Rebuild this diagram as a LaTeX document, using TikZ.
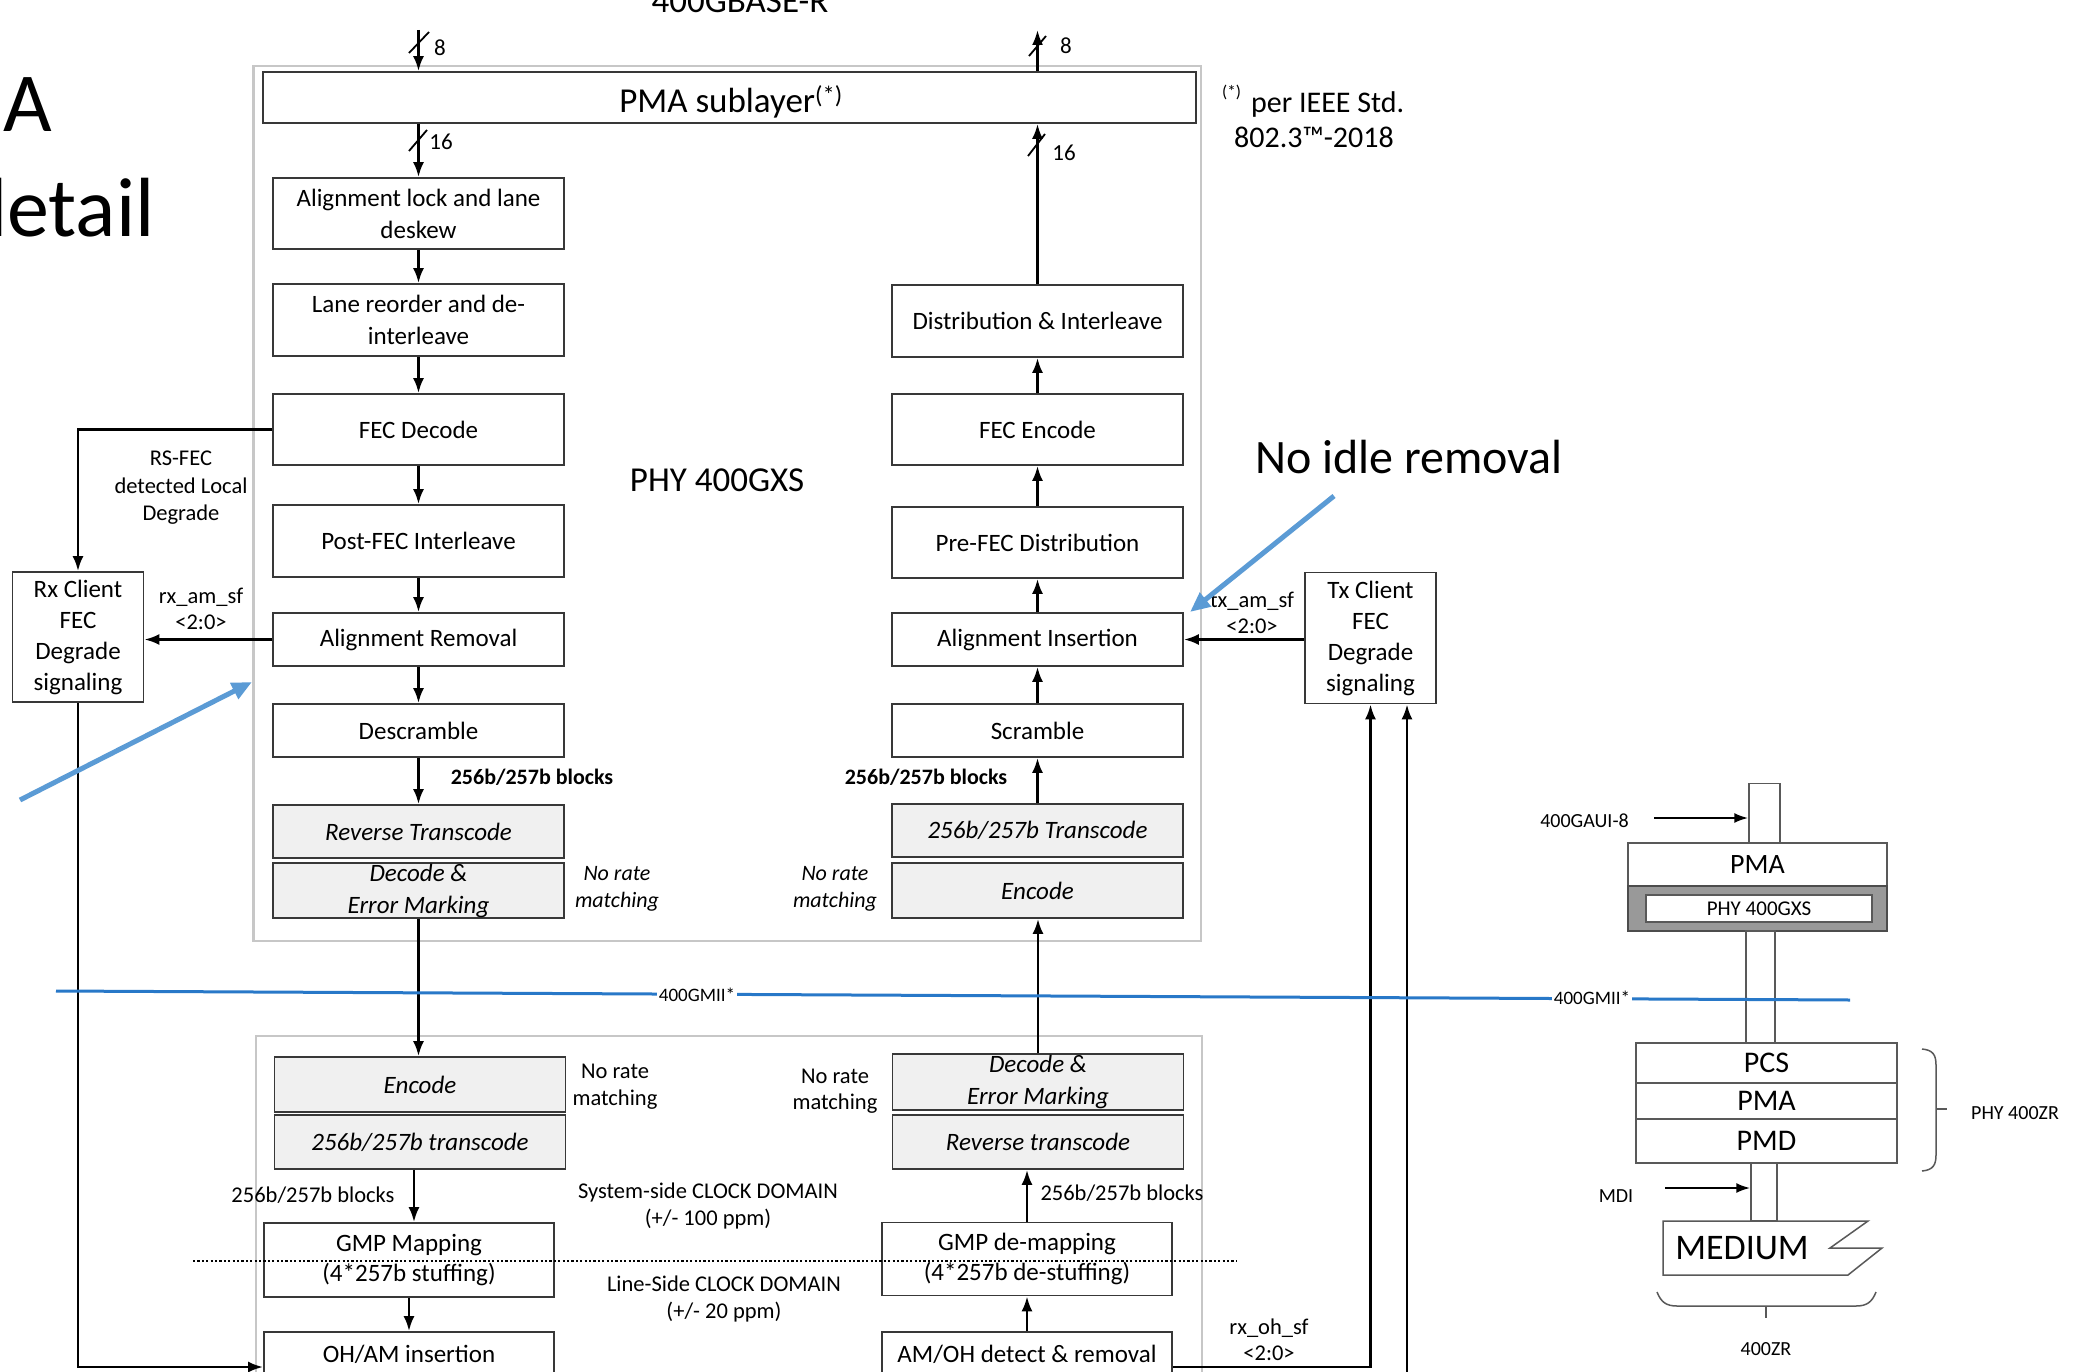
\documentclass[tikz,border=0pt]{standalone}
\usepackage{fontspec}
\setmainfont{Carlito}
\usetikzlibrary{arrows.meta,calc}
\newcommand\fz[2]{\fontsize{#1}{#2}\selectfont}
\definecolor{annblue}{RGB}{91,155,213}
\definecolor{gmblue}{RGB}{40,120,200}
\tikzset{
 grp/.style={draw=black!22, line width=2.4pt, inner sep=0pt},
 blk/.style={draw=black!78, line width=1.8pt, fill=white, minimum width=291pt, align=center, font=\fz{25}{32}, inner sep=0pt},
 gblk/.style={blk, fill=black!6, font=\fz{25}{32}\itshape},
 cblk/.style={draw=black!78, line width=1.8pt, fill=white, align=center, font=\fz{25}{31}, inner sep=0pt},
 conn/.style={draw=black, line width=2.5pt, -{Latex[length=15pt,width=11pt]}},
 conn2/.style={draw=black, line width=2.2pt, -{Latex[length=14pt,width=10pt]}},
 slash/.style={draw=black, line width=1.8pt},
 num/.style={font=\fz{23}{26}, inner sep=0pt},
 lbl/.style={font=\fz{22.5}{26.5}, align=center, inner sep=0pt},
 ilbl/.style={font=\fz{22}{27}\itshape, align=center, inner sep=0pt},
 stk/.style={draw=black!65, line width=1.5pt, fill=white, inner sep=0pt},
 sml/.style={font=\fz{20}{22}, inner sep=0pt},
 brc/.style={draw=black!65, line width=1.5pt},
 annarrow/.style={draw=annblue, line width=5pt, -{Triangle[length=20pt,width=17pt]}},
 gmline/.style={draw=gmblue, line width=3pt},
 gmlbl/.style={font=\fz{19}{21}, fill=white, inner sep=1.5pt},
 dotline/.style={draw=black, line width=1.6pt, dash pattern=on 2.2pt off 2.2pt},
}
\begin{document}
\begin{tikzpicture}[x=1pt,y=-1pt]
\useasboundingbox (0,0) rectangle (2079,1372);
\fill[white] (0,0) rectangle (2079,1372);

% slide title fragments
\node[font=\fz{84}{90}, anchor=base west, inner sep=0pt] (tA) at (3,132) {A};
\node[font=\fz{84}{90}, anchor=base west, inner sep=0pt] (tdet) at (-37,237) {detail};
\node[font=\fz{35}{40}, anchor=base, inner sep=0pt] (tbase) at (740,13) {400GBASE-R};

% upper group
\node[grp, minimum width=947.5pt, minimum height=875pt] (gxs) at (727.25,503.5) {};
\node[blk, minimum width=933pt, minimum height=51pt] (pma) at (729.5,97.5) {};
\node[font=\fz{35}{40}, anchor=base, inner sep=0pt] (pmat) at (731,113) {PMA sublayer\textsuperscript{(*)}};
\node[font=\fz{17}{20}, anchor=base west, inner sep=0pt] (star) at (1222,98) {(*)};
\node[font=\fz{30}{34}, anchor=base west, inner sep=0pt] (ieee1) at (1251,113) {per IEEE Std.};
\node[font=\fz{30}{34}, anchor=base, inner sep=0pt] (ieee2) at (1314,148) {802.3™-2018};
\node[font=\fz{35}{40}, inner sep=0pt] (phyg) at (717,480) {PHY 400GXS};

% left column
\node[blk, minimum height=71pt] (all) at (418.5,213.5) {Alignment lock and lane\\deskew};
\node[blk, minimum height=72pt] (lrd) at (418.5,320) {Lane reorder and de-\\interleave};
\node[blk, minimum height=71pt] (fecd) at (418.5,429.5) {FEC Decode};
\node[blk, minimum height=72pt] (pfi) at (418.5,541) {Post-FEC Interleave};
\node[blk, minimum height=53pt] (ar) at (418.5,639.5) {Alignment Removal};
\node[blk, minimum height=53pt] (desc) at (418.5,730.5) {Descramble};
\node[gblk, minimum height=53pt] (rt) at (418.5,831.5) {Reverse Transcode};
\node[gblk, minimum height=55pt] (dem) at (418.5,890.5) {Decode \&\\Error Marking};

% right column
\node[blk, minimum height=72pt] (di) at (1037.5,321) {Distribution \& Interleave};
\node[blk, minimum height=71pt] (fece) at (1037.5,429.5) {FEC Encode};
\node[blk, minimum height=71pt] (pfd) at (1037.5,542.5) {Pre-FEC Distribution};
\node[blk, minimum height=53pt] (ai) at (1037.5,639.5) {Alignment Insertion};
\node[blk, minimum height=53pt] (scr) at (1037.5,730.5) {Scramble};
\node[gblk, minimum height=53pt] (tc) at (1037.5,830.5) {256b/257b Transcode};
\node[gblk, minimum height=55pt] (enc) at (1037.5,890.5) {Encode};

% top arrows
\coordinate (in8) at (418.5,30);
\draw[conn] (in8) -- (in8 |- pma.north);
\draw[slash] (409,53) -- (429,32);
\node[num] (n8a) at (440,48) {8};
\coordinate (out8) at (1037.5,30);
\draw[conn] (out8 |- pma.north) -- (out8);
\draw[slash] (1029,56) -- (1046,36);
\node[num] (n8b) at (1066,46) {8};
\draw[conn] (pma.south -| all.north) -- (all.north);
\draw[slash] (409,151) -- (427,130);
\node[num] (n16a) at (441,142) {16};
\draw[conn] (di.north) -- (di.north |- pma.south);
\draw[slash] (1028,156) -- (1045,134);
\node[num] (n16b) at (1064,153) {16};

% column connectors
\draw[conn] (all.south) -- (lrd.north);
\draw[conn] (lrd.south) -- (fecd.north);
\draw[conn] (fecd.south) -- (pfi.north);
\draw[conn] (pfi.south) -- (ar.north);
\draw[conn] (ar.south) -- (desc.north);
\draw[conn] (desc.south) -- (rt.north);
\draw[conn] (fece.north) -- (di.south);
\draw[conn] (pfd.north) -- (fece.south);
\draw[conn] (ai.north) -- (pfd.south);
\draw[conn] (scr.north) -- (ai.south);
\draw[conn] (tc.north) -- (scr.south);
\node[font=\bfseries\fz{22}{26}, inner sep=0pt] (bl1) at (532,777) {256b/257b blocks};
\node[font=\bfseries\fz{22}{26}, inner sep=0pt] (bl2) at (926,777) {256b/257b blocks};
\node[ilbl] (nrm1) at (617,888.5) {No rate\\matching};
\node[ilbl] (nrm2) at (835,888.5) {No rate\\matching};

% client boxes
\node[cblk, minimum width=131pt, minimum height=130pt] (rxc) at (78,637) {Rx Client\\FEC\\Degrade\\signaling};
\node[cblk, minimum width=131pt, minimum height=131pt] (txc) at (1370.5,638) {Tx Client\\FEC\\Degrade\\signaling};
\draw[conn] (fecd.west) -| (rxc.north);
\node[lbl, font=\fz{22.5}{27.5}] (rsfec) at (181,488) {RS-FEC\\detected Local\\Degrade};
\draw[conn] (ar.west) -- (ar.west -| rxc.east);
\node[lbl] (rxam) at (201,609) {rx\_am\_sf\\<2:0>};
\draw[conn] (txc.west |- ai.east) -- (ai.east);
\node[lbl] (txam) at (1252,613) {tx\_am\_sf\\<2:0>};

% lower group
\node[grp, minimum width=946pt, minimum height=400pt, anchor=north west] (zr) at (255,1035) {};
\node[gblk, minimum height=55pt] (encl) at (420,1084.5) {Encode};
\node[gblk, minimum height=54pt] (tcl) at (420,1142) {256b/257b transcode};
\draw[conn] (dem.south) -- (dem.south |- encl.north);
\node[lbl] (nrm3) at (615,1086.5) {No rate\\matching};
\node[lbl] (bl3) at (313,1195) {256b/257b blocks};
\node[cblk, minimum width=290pt, minimum height=74pt, font=\fz{25}{30}] (gmp) at (409,1260) {GMP Mapping\\(4*257b stuffing)};
\coordinate (a1) at ([xshift=-6pt]tcl.south);
\draw[conn] (a1) -- (a1 |- gmp.north);
\node[cblk, minimum width=290pt, minimum height=70pt] (ohm) at (409,1367) {};
\node[font=\fz{25}{30}, inner sep=0pt] (ohmt) at (409,1354) {OH/AM insertion};
\draw[conn] (gmp.south) -- (ohm.north);
\draw[conn] (rxc.south) |- (ohm.west);

\node[gblk, minimum height=56pt] (dem2) at (1038,1082) {Decode \&\\Error Marking};
\node[gblk, minimum height=54pt] (rt2) at (1038,1142) {Reverse transcode};
\draw[conn] (dem2.north) -- (dem2.north |- enc.south);
\node[lbl] (nrm4) at (835,1091) {No rate\\matching};
\node[cblk, minimum width=290pt, minimum height=73pt, font=\fz{25}{30}] (gdm) at (1027,1259) {GMP de-mapping\\(4*257b de-stuffing)};
\draw[conn] (gdm.north) -- (gdm.north |- rt2.south);
\node[lbl] (bl4) at (1122,1193) {256b/257b blocks};
\node[cblk, minimum width=290pt, minimum height=70pt] (amoh) at (1027,1367) {};
\node[font=\fz{25}{30}, inner sep=0pt] (amoht) at (1027,1354) {AM/OH detect \& removal};
\draw[conn] (amoh.north) -- (gdm.south);
\draw[conn] (amoh.east) -| (txc.south);
\node[lbl] (rxoh) at (1269,1340) {rx\_oh\_sf\\<2:0>};
\coordinate (txin) at (1407,1395);
\draw[conn] (txin) -- (txin |- txc.south);

\coordinate (d1) at (193,1261);
\coordinate (d2) at (1236,1261);
\draw[dotline] (d1) -- (d2);
\node[lbl, font=\fz{22.5}{27}] (sysclk) at (708,1206) {System-side CLOCK DOMAIN\\(+/- 100 ppm)};
\node[lbl, font=\fz{22.5}{27}] (lineclk) at (724,1299) {Line-Side CLOCK DOMAIN\\(+/- 20 ppm)};

% right-hand stack
\node[stk, minimum width=31pt, minimum height=59pt] (sr1) at (1764.5,813) {};
\node[sml] (gaui) at (1584.5,821) {400GAUI-8};
\coordinate (ga0) at (1654,818);
\draw[conn2] (ga0) -- (ga0 -| sr1.west);
\node[stk, minimum width=259pt, minimum height=43pt, font=\fz{28}{30}] (spma) at (1757.5,864.5) {PMA};
\node[stk, draw=black!70, fill=black!40, minimum width=259pt, minimum height=45pt] (sphy) at (1757.5,908.5) {};
\node[stk, fill=white, minimum width=226pt, minimum height=27pt, font=\fz{21}{24}] (sphyi) at (1759,908.5) {PHY 400GXS};
\node[stk, minimum width=29pt, minimum height=112pt] (sr2) at (1760.5,987) {};
\node[stk, minimum width=261pt, minimum height=40pt, font=\fz{30}{32}] (spcs) at (1766.5,1063) {PCS};
\node[stk, minimum width=261pt, minimum height=36pt, font=\fz{30}{32}] (spma2) at (1766.5,1101) {PMA};
\node[stk, minimum width=261pt, minimum height=44pt, font=\fz{30}{32}] (spmd) at (1766.5,1141) {PMD};
\draw[brc] (1922,1049) .. controls (1933,1050) and (1936,1055) .. (1936,1065) -- (1936,1155) .. controls (1936,1165) and (1933,1170) .. (1922,1171);
\draw[brc] (1936,1109) -- (1947,1109);
\node[sml] (zrphy) at (2015,1113) {PHY 400ZR};
\node[stk, minimum width=26pt, minimum height=58pt] (sr3) at (1764,1192) {};
\node[sml] (mdi) at (1616,1196) {MDI};
\coordinate (md0) at (1665,1188);
\draw[conn2] (md0) -- (md0 -| sr3.west);
\draw[stk] (1663,1221) -- (1868,1221) -- (1830,1248) -- (1882,1248) -- (1848,1275) -- (1663,1275) -- cycle;
\node[font=\fz{36}{40}, inner sep=0pt] (med) at (1742,1248) {MEDIUM};
\draw[brc] (1657,1292) .. controls (1661,1302) and (1666,1306) .. (1677,1306) -- (1856,1306) .. controls (1867,1306) and (1872,1302) .. (1876,1292);
\draw[brc] (1766,1306) -- (1766,1318);
\node[sml] (zr400) at (1766,1349) {400ZR};

% 400GMII line
\coordinate (gm1) at (56,991);
\coordinate (gm2) at (1850,1000);
\draw[gmline] (gm1) -- (gm2);
\node[gmlbl] (gml1) at (697,994.5) {400GMII*};
\node[gmlbl] (gml2) at (1592,998) {400GMII*};

% annotations
\node[font=\fz{48}{52}, inner sep=0pt] (noidle) at (1409,457) {No idle removal};
\coordinate (ba1) at (20,800);
\coordinate (ba2) at (252,682);
\draw[annarrow] (ba1) -- (ba2);
\coordinate (bb1) at (1334,496);
\coordinate (bb2) at (1190,612);
\draw[annarrow] (bb1) -- (bb2);
\end{tikzpicture}
\end{document}
